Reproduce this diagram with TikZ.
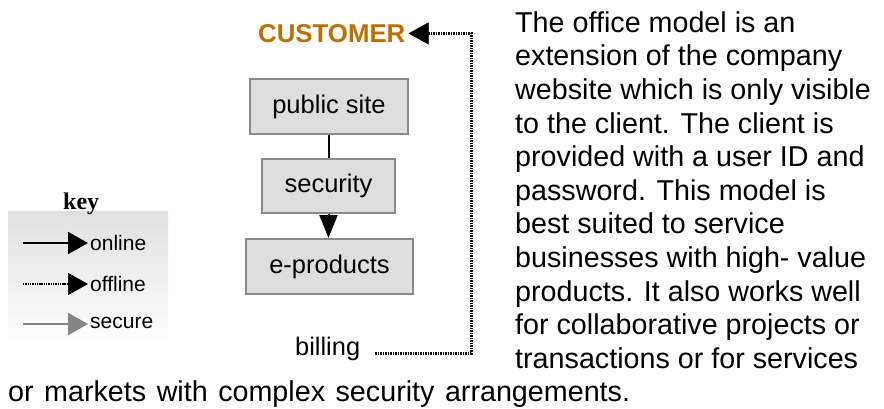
\documentclass[tikz,border=0pt]{standalone}
\usepackage{fontspec}
\setmainfont{Liberation Sans}
\newfontfamily\keyserif{Liberation Serif}
\usetikzlibrary{arrows.meta}
\definecolor{custcol}{HTML}{BF6F00}
\definecolor{boxfill}{HTML}{DEDEDE}
\definecolor{boxline}{HTML}{8A8A8A}
\definecolor{securecol}{HTML}{858585}
\tikzset{
  procbox/.style={draw=boxline, fill=boxfill, line width=2pt, inner sep=0pt,
    font=\fontsize{25.5}{28}\selectfont},
  para/.style={anchor=base west, inner sep=0pt, font=\fontsize{28.7}{33.6}\selectfont},
  legtext/.style={anchor=base west, inner sep=0pt, font=\fontsize{21}{24}\selectfont},
  onl/.style={draw=black, line width=2pt},
  offl/.style={draw=black, line width=3pt, dash pattern=on 1.6pt off 0.9pt},
  bigtip/.style={-{Triangle[length=20pt,width=22pt]}},
}
\begin{document}
\begin{tikzpicture}[x=1pt,y=-1pt]
\useasboundingbox (0,0) rectangle (884,408);
% key background
\shade[top color=black!12, bottom color=white] (8,211) rectangle (168,345);
\node[anchor=base west, inner sep=0pt, font=\keyserif\bfseries\fontsize{24}{26}\selectfont] (key) at (63,209) {key};
% legend
\coordinate (l1a) at (23,243);  \coordinate (l1b) at (88,243);
\coordinate (l2a) at (23,284);  \coordinate (l2b) at (88,284);
\coordinate (l3a) at (23,324);  \coordinate (l3b) at (88,324);
\draw[onl, bigtip] (l1a) -- (l1b);
\draw[draw=black, line width=2.2pt, dash pattern=on 1.4pt off 0.9pt] (l2a) -- ([xshift=-18pt]l2b);
\draw[draw=black, line width=0.5pt, bigtip] ([xshift=-19pt]l2b) -- (l2b);
\draw[draw=securecol, line width=2pt, -{Triangle[length=20pt,width=22pt,fill=securecol]}] (l3a) -- (l3b);
\node[legtext] (lon) at (90,250) {online};
\node[legtext] (lof) at (90,291) {offline};
\node[legtext] (lse) at (90,328) {secure};
% customer
\node[anchor=base west, inner sep=0pt, text=custcol, font=\bfseries\fontsize{25.8}{28}\selectfont] (cust) at (258,42.3) {CUSTOMER};
% boxes
\node[procbox, minimum width=158pt, minimum height=55pt] (pub) at (329,106.5) {public site};
\node[procbox, minimum width=133pt, minimum height=54pt] (sec) at (328.5,186) {security};
\node[procbox, minimum width=167pt, minimum height=55pt] (ep) at (329.5,266.5) {e-products};
\draw[onl] (pub.south) -- (pub.south |- sec.north);
\draw[onl, -{Triangle[length=23pt,width=18pt]}] (sec.south) -- (sec.south |- ep.north);
% billing
\node[anchor=base west, inner sep=0pt, font=\fontsize{25.4}{28}\selectfont] (bill) at (295,355) {billing};
\coordinate (bc) at (471.5,353);
\draw[offl] ([xshift=15pt]bc -| bill.east) -- (bc) -- (bc |- cust.east) -- ([xshift=21pt]cust.east);
\draw[draw=black, line width=0.5pt, -{Triangle[length=20pt,width=22pt]}] ([xshift=22pt]cust.east) -- ([xshift=3pt]cust.east);
% paragraph
\node[para] (p1) at (515,32.3) {The office model is an};
\node[para] (p2) at (515,65.9) {extension of the company};
\node[para] (p3) at (515,99.5) {website which is only visible};
\node[para] (p4) at (515,133.1) {to the client. The client is};
\node[para] (p5) at (515,166.7) {provided with a user ID and};
\node[para] (p6) at (515,200.3) {password. This model is};
\node[para] (p7) at (515,233.9) {best suited to service};
\node[para] (p8) at (515,267.5) {businesses with high- value};
\node[para] (p9) at (515,301.1) {products. It also works well};
\node[para] (p10) at (515,334.7) {for collaborative projects or};
\node[para] (p11) at (515,368.3) {transactions or for services};
\node[para] (p12) at (8,401.9) {\spaceskip=10.5pt or markets with complex security arrangements.};
\end{tikzpicture}
\end{document}
